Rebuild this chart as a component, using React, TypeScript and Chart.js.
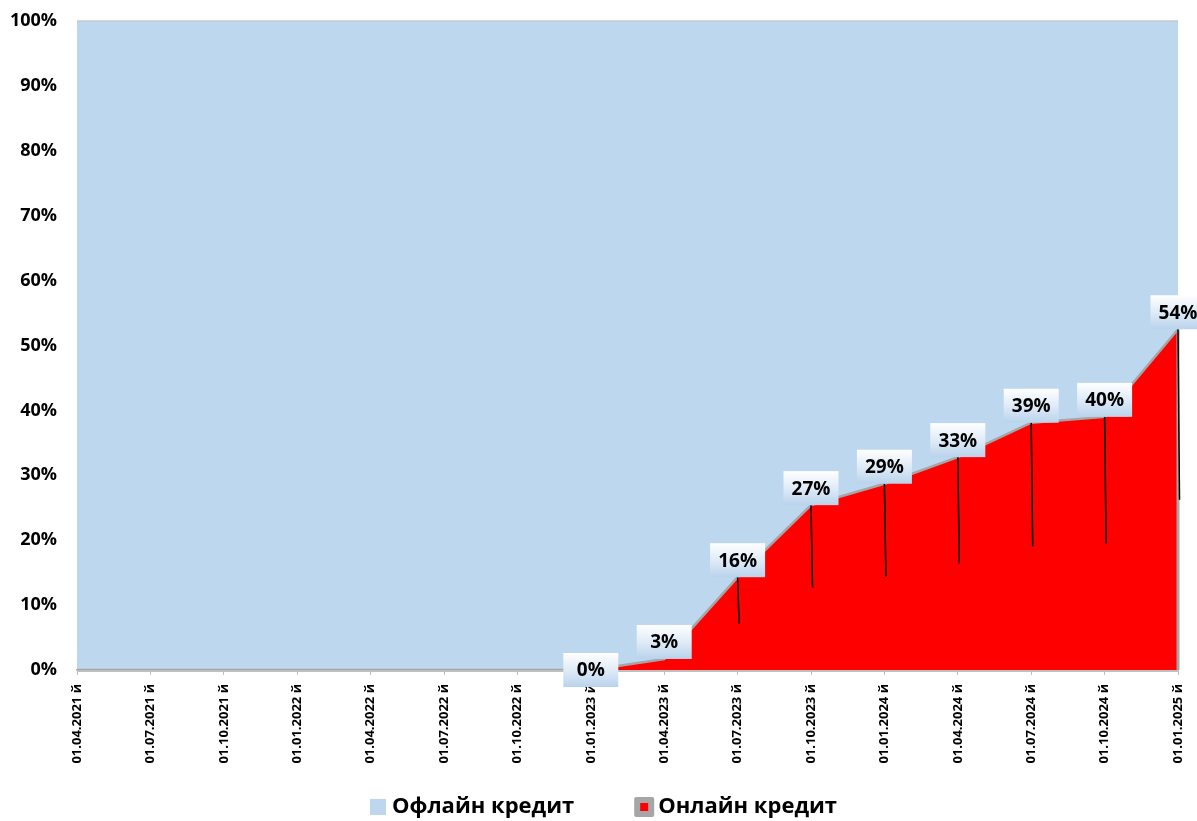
import React, { useEffect, useRef } from 'react';
import { Chart, registerables } from 'chart.js';

Chart.register(...registerables);

const categories = [
  '01.04.2021 й', '01.07.2021 й', '01.10.2021 й', '01.01.2022 й',
  '01.04.2022 й', '01.07.2022 й', '01.10.2022 й', '01.01.2023 й',
  '01.04.2023 й', '01.07.2023 й', '01.10.2023 й', '01.01.2024 й',
  '01.04.2024 й', '01.07.2024 й', '01.10.2024 й', '01.01.2025 й',
];

// Online credit share (%), read from the red area
const onlineShare = [0, 0, 0, 0, 0, 0, 0, 0, 1.7, 14.3, 25.4, 28.7, 32.8, 38.1, 39.0, 52.5];
// Offline credit share (%), the light-blue part above
const offlineShare = [100, 100, 100, 100, 100, 100, 100, 100, 98.3, 85.7, 74.6, 71.3, 67.2, 61.9, 61.0, 47.5];
// Data label texts shown on the online series
const onlineLabels = [null, null, null, null, null, null, null, '0%', '3%', '16%', '27%', '29%', '33%', '39%', '40%', '54%'];

const yTicks = [0, 10, 20, 30, 40, 50, 60, 70, 80, 90, 100];
const seriesNames = ['Офлайн кредит', 'Онлайн кредит'];

const FONT = '"Open Sans", "Noto Sans", "DejaVu Sans", sans-serif';
const BLUE = '#BDD7EE';
const RED = '#FF0000';
const GRAY = '#A6A6A6';

export default function App() {
  const ref = useRef<HTMLCanvasElement>(null);

  useEffect(() => {
    document.body.style.margin = '0';
    const canvas = ref.current;
    if (!canvas) return;

    const overlay = {
      id: 'overlay',
      afterDatasetsDraw(chart: any) {
        const ctx = chart.ctx as CanvasRenderingContext2D;
        const area = chart.chartArea;
        const ys = chart.scales.y;
        const meta = chart.getDatasetMeta(0);
        ctx.save();
        // top border line
        ctx.strokeStyle = '#C8C8C8';
        ctx.lineWidth = 1.5;
        ctx.beginPath();
        ctx.moveTo(area.left, area.top);
        ctx.lineTo(area.right, area.top);
        ctx.stroke();
        // right edge of red area
        const last = meta.data[meta.data.length - 1];
        const y0 = ys.getPixelForValue(0);
        ctx.strokeStyle = GRAY;
        ctx.lineWidth = 3;
        ctx.beginPath();
        ctx.moveTo(last.x, last.y);
        ctx.lineTo(last.x, y0);
        ctx.stroke();
        // bottom axis line
        ctx.strokeStyle = '#BFBFBF';
        ctx.lineWidth = 2;
        ctx.beginPath();
        ctx.moveTo(area.left, y0 + 1);
        ctx.lineTo(area.right + 1, y0 + 1);
        ctx.stroke();

        // data labels
        onlineLabels.forEach((t, i) => {
          if (!t) return;
          const p = meta.data[i];
          const v = onlineShare[i];
          const mid = ys.getPixelForValue(v / 2);
          if (mid - p.y > 15) {
            ctx.strokeStyle = '#000000';
            ctx.lineWidth = 1.5;
            ctx.beginPath();
            ctx.moveTo(p.x, p.y);
            ctx.lineTo(p.x + 1.5, mid);
            ctx.stroke();
          }
          const w = 55;
          const h = 34;
          const top = v === 0 ? p.y - h / 2 : p.y - h;
          const left = p.x - w / 2;
          const g = ctx.createLinearGradient(0, top, 0, top + h);
          g.addColorStop(0, '#FFFFFF');
          g.addColorStop(0.55, '#DCE9F6');
          g.addColorStop(1, '#B9D3EC');
          ctx.fillStyle = g;
          ctx.fillRect(left, top, w, h);
          ctx.fillStyle = '#000000';
          ctx.font = `bold 19px ${FONT}`;
          ctx.textAlign = 'center';
          ctx.textBaseline = 'middle';
          ctx.fillText(t, p.x, top + h / 2 + 1);
        });
        ctx.restore();
      },
      afterDraw(chart: any) {
        const ctx = chart.ctx as CanvasRenderingContext2D;
        ctx.save();
        ctx.font = `bold 22px ${FONT}`;
        ctx.textBaseline = 'middle';
        ctx.textAlign = 'left';
        const yc = 807;
        let x = 370;
        ctx.fillStyle = BLUE;
        ctx.fillRect(x, yc - 8, 16, 16);
        ctx.fillStyle = '#000000';
        ctx.fillText(seriesNames[0], x + 22, yc);
        const w1 = ctx.measureText(seriesNames[0]).width;
        x = x + 22 + w1 + 60;
        ctx.fillStyle = GRAY;
        ctx.beginPath();
        ctx.roundRect(x, yc - 10, 20, 20, 2);
        ctx.fill();
        ctx.fillStyle = RED;
        ctx.fillRect(x + 6, yc - 4, 8, 8);
        ctx.fillStyle = '#000000';
        ctx.fillText(seriesNames[1], x + 24, yc);
        ctx.restore();
      },
    };

    const zeroPad = (s: any) => {
      s.paddingTop = 0;
      s.paddingBottom = 0;
      s.paddingLeft = 0;
      s.paddingRight = 0;
    };

    const chart = new Chart(canvas, {
      type: 'line',
      data: {
        labels: categories,
        datasets: [
          {
            label: seriesNames[1],
            data: onlineShare,
            fill: 'origin',
            backgroundColor: RED,
            borderColor: GRAY,
            borderWidth: 2.5,
            pointRadius: 0,
            tension: 0,
          },
          {
            label: seriesNames[0],
            data: offlineShare,
            fill: '-1',
            backgroundColor: BLUE,
            borderColor: BLUE,
            borderWidth: 0,
            pointRadius: 0,
            tension: 0,
          },
        ],
      },
      options: {
        responsive: false,
        animation: false,
        layout: { padding: { top: 21, right: 19, bottom: 46, left: 0 } },
        plugins: {
          legend: { display: false },
          tooltip: { enabled: false },
        },
        scales: {
          x: {
            type: 'category',
            offset: false,
            grid: {
              display: true,
              drawOnChartArea: false,
              drawTicks: true,
              tickLength: 5,
              color: '#BFBFBF',
            },
            border: { display: true, color: '#BFBFBF', width: 2 },
            ticks: {
              autoSkip: false,
              minRotation: 90,
              maxRotation: 90,
              color: '#000000',
              padding: 9,
              font: { family: FONT, size: 13, weight: 'bold' },
            },
            afterFit(s: any) {
              s.height = 105;
              zeroPad(s);
            },
          },
          y: {
            stacked: true,
            min: 0,
            max: 100,
            afterBuildTicks(s: any) {
              s.ticks = yTicks.map((v) => ({ value: v }));
            },
            ticks: {
              color: '#000000',
              padding: 20,
              font: { family: FONT, size: 18, weight: 'bold' },
              callback: (v: any) => `${v}%`,
            },
            grid: { display: false, drawTicks: false },
            border: { display: false },
            afterFit(s: any) {
              s.width = 77;
              zeroPad(s);
            },
          },
        },
      },
      plugins: [overlay],
    } as any);

    return () => {
      chart.destroy();
    };
  }, []);

  return <canvas ref={ref} width={1197} height={821} style={{ display: 'block' }} />;
}
